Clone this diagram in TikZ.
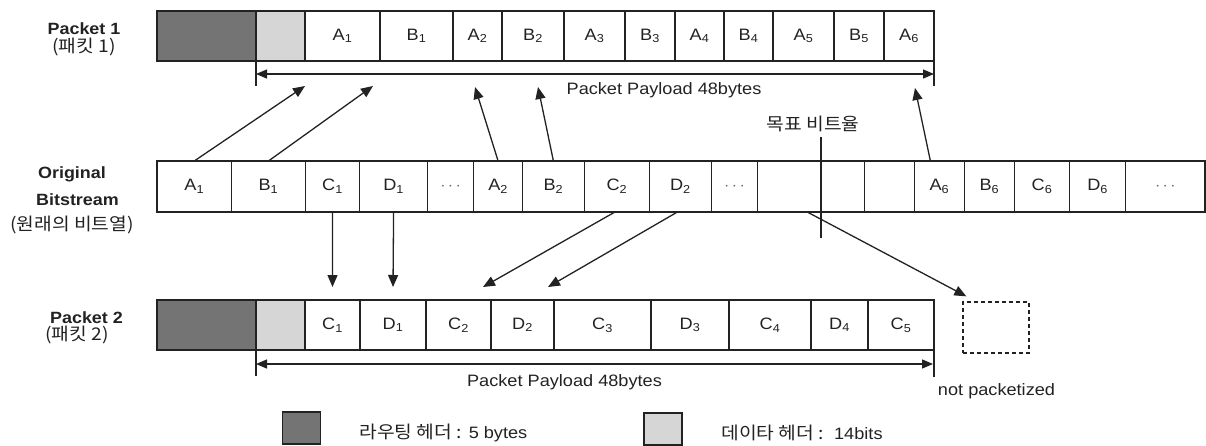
\documentclass[tikz,border=0pt]{standalone}
\usepackage{fontspec}
\setmainfont[FakeStretch=1.1]{Liberation Sans}
\newfontfamily\kr[FakeStretch=1.1]{Noto Sans CJK KR}
\usetikzlibrary{arrows.meta}
\definecolor{ink}{HTML}{222222}
\definecolor{darkhdr}{HTML}{747474}
\definecolor{lighthdr}{HTML}{D6D6D6}
\newcommand\eli{{\color{black!60}$\cdots$}}
\begin{document}
\begin{tikzpicture}[x=1pt,y=-1pt,
  every node/.style={font=\fontsize{16.5}{19}\selectfont, text=ink},
  cell/.style={draw=ink, line width=1.3pt, inner sep=0pt, outer sep=0pt},
  dhdr/.style={cell, fill=darkhdr},
  lhdr/.style={cell, fill=lighthdr},
  bold/.style={font=\fontsize{16.3}{19}\selectfont\bfseries},
  kor/.style={font=\kr\fontsize{17.5}{20}\selectfont},
  conn/.style={draw=ink, line width=1.3pt, -{Triangle[length=12pt,width=10pt]}},
  dimarrow/.style={draw=ink, line width=1.3pt, {Triangle[length=11pt,width=9pt]}-{Triangle[length=11pt,width=9pt]}},
  plain/.style={draw=ink, line width=1.3pt}]
\useasboundingbox (0,0) rectangle (1206,445);

% ---------- Packet 1 ----------
\node[dhdr, minimum width=99pt, minimum height=50pt] (p1d) at (206.5,36) {};
\node[lhdr, minimum width=49pt, minimum height=50pt] (p1l) at (280.5,36) {};
\foreach \l/\r/\t/\n in {305/380/A\textsubscript{1}/p1a1, 380/453/B\textsubscript{1}/p1b1,
  453/502/A\textsubscript{2}/p1a2, 502/564/B\textsubscript{2}/p1b2, 564/625/A\textsubscript{3}/p1a3,
  625/675/B\textsubscript{3}/p1b3, 675/724/A\textsubscript{4}/p1a4, 724/773/B\textsubscript{4}/p1b4,
  773/834/A\textsubscript{5}/p1a5, 834/884/B\textsubscript{5}/p1b5, 884/934/A\textsubscript{6}/p1a6}
  \node[cell, minimum width={\r pt-\l pt}, minimum height=50pt] (\n) at ({(\l+\r)/2},36) {\t};

\node[bold] (lp1) at (84,29) {Packet 1};
\node[kor] (lp1k) at (84,47) {(패킷 1)};

\draw[plain] (p1d.south east) -- ++(0,25) coordinate (p1tl);
\draw[plain] (p1a6.south east) -- ++(0,25) coordinate (p1tr);
\coordinate (p1al) at (256,74);
\coordinate (p1ar) at (934,74);
\draw[dimarrow] (p1al) -- (p1ar);
\node (pay1) at (664,90) {Packet Payload 48bytes};

% ---------- Original bitstream ----------
\foreach \l/\r/\t/\n in {157/231.5/A\textsubscript{1}/ba1, 231.5/305.4/B\textsubscript{1}/bb1,
  305.4/359.7/C\textsubscript{1}/bc1, 359.7/427.5/D\textsubscript{1}/bd1, 427.5/473.8/\eli/be1,
  473.8/522.4/A\textsubscript{2}/ba2, 522.4/584.4/B\textsubscript{2}/bb2, 584.4/649.5/C\textsubscript{2}/bc2,
  649.5/711.3/D\textsubscript{2}/bd2, 711.3/757.7/\eli/be2, 757.7/864.8/{}/bx, 864.8/914.3/{}/by,
  914.3/964.5/A\textsubscript{6}/ba6, 964.5/1014.4/B\textsubscript{6}/bb6, 1014.4/1069.7/C\textsubscript{6}/bc6,
  1069.7/1125.7/D\textsubscript{6}/bd6, 1125.7/1205/\eli/be6}
  \node[cell, minimum width={\r pt-\l pt}, minimum height=51pt] (\n) at ({(\l+\r)/2},186.5) {\t};

\node[bold] (lo1) at (72,174) {Original};
\node[bold] (lo2) at (77.5,200) {Bitstream};
\node[kor] (lok) at (72,225) {(원래의 비트열)};

\node[kor] (target) at (813,124) {목표 비트율};
\coordinate (tt) at (821,137);
\coordinate (tb) at (821,238);
\draw[plain] (tt) -- (tb);

% ---------- Packet 2 ----------
\node[dhdr, minimum width=99pt, minimum height=50pt] (p2d) at (206.5,325) {};
\node[lhdr, minimum width=49pt, minimum height=50pt] (p2l) at (280.5,325) {};
\foreach \l/\r/\t/\n in {305/360/C\textsubscript{1}/p2c1, 360/426/D\textsubscript{1}/p2d1,
  426/491/C\textsubscript{2}/p2c2, 491/554/D\textsubscript{2}/p2d2, 554/651/C\textsubscript{3}/p2c3,
  651/729/D\textsubscript{3}/p2d3, 729/811/C\textsubscript{4}/p2c4, 811/868/D\textsubscript{4}/p2d4,
  868/934/C\textsubscript{5}/p2c5}
  \node[cell, minimum width={\r pt-\l pt}, minimum height=50pt] (\n) at ({(\l+\r)/2},325) {\t};

\node[bold] (lp2) at (86.5,318) {Packet 2};
\node[kor] (lp2k) at (77,335) {(패킷 2)};

\draw[plain] (p2d.south east) -- ++(0,26) coordinate (p2tl);
\draw[plain] (p2c5.south east) -- ++(0,27) coordinate (p2tr);
\coordinate (p2al) at (256,364);
\coordinate (p2ar) at (933,364);
\draw[dimarrow] (p2al) -- (p2ar);
\node (pay2) at (564.5,382) {Packet Payload 48bytes};

% not packetized
\node[draw=ink, line width=1.3pt, dash pattern=on 4pt off 3pt, minimum width=66pt, minimum height=51pt, inner sep=0pt] (np) at (996,327.5) {};
\node (npl) at (996.5,391) {not packetized};

% ---------- connectors ----------
\coordinate (e1) at (305,86);
\coordinate (e2) at (373,86);
\coordinate (e3) at (475,87);
\coordinate (e4) at (538,87);
\coordinate (e5) at (915,88);
\draw[conn] (ba1.north) -- (e1);
\draw[conn] (bb1.north) -- (e2);
\draw[conn] (ba2.north) -- (e3);
\draw[conn] (bb2.north) -- (e4);
\draw[conn] ([xshift=-9pt]ba6.north) -- (e5);

\draw[conn] (bc1.south) -- ([yshift=13pt]p2c1.north);
\draw[conn] (bd1.south) -- ([yshift=13pt]p2d1.north);
\coordinate (e6) at (483,287);
\coordinate (e7) at (548,287);
\draw[conn] ([xshift=-2pt]bc2.south) -- (e6);
\draw[conn] ([xshift=-3pt]bd2.south) -- (e7);
\draw[conn] ([xshift=-4pt]bx.south) -- ([shift={(4pt,5pt)}]np.north west);

% ---------- legend ----------
\node[dhdr, minimum width=38pt, minimum height=32pt] (lgd) at (301.5,428) {};
\node[kor, anchor=west] (lgdt) at (356,433) {라우팅 헤더 :\fontspec[FakeStretch=1.1]{Liberation Sans}\fontsize{16.5}{19}\selectfont{} 5 bytes};
\node[lhdr, minimum width=38pt, minimum height=32pt] (lgl) at (663,429) {};
\node[kor, anchor=west] (lglt) at (718,433) {데이타 헤더 :\fontspec[FakeStretch=1.1]{Liberation Sans}\fontsize{16.5}{19}\selectfont{}\ \ 14bits};
\end{tikzpicture}
\end{document}
